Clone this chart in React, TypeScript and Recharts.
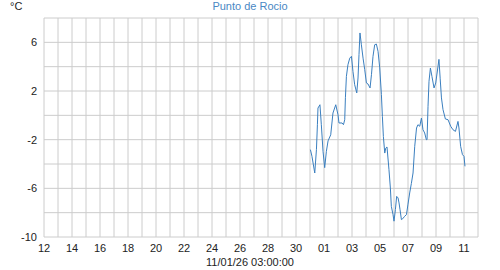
import React from 'react';
import { LineChart, Line, XAxis, YAxis, CartesianGrid } from 'recharts';

// days elapsed since 12 Dec (00:00)
const dayOffsets = [
  19.03, 19.14, 19.34, 19.46, 19.53, 19.57, 19.71, 19.81, 19.93, 20.05,
  20.17, 20.29, 20.48, 20.64, 20.84, 21.0, 21.07, 21.29, 21.39, 21.48,
  21.53, 21.6, 21.71, 21.84, 21.96, 22.07, 22.19, 22.34, 22.43, 22.5,
  22.57, 22.67, 22.79, 22.91, 23.03, 23.14, 23.29, 23.39, 23.5, 23.62,
  23.74, 23.86, 23.98, 24.1, 24.17, 24.24, 24.34, 24.41, 24.5, 24.64,
  24.74, 24.81, 24.93, 25.0, 25.1, 25.19, 25.29, 25.36, 25.43, 25.53,
  25.62, 25.76, 25.89, 26.0, 26.12, 26.24, 26.36, 26.48, 26.61, 26.71,
  26.84, 26.96, 27.07, 27.19, 27.31, 27.36, 27.43, 27.5, 27.6, 27.71,
  27.86, 27.98, 28.14, 28.21, 28.3, 28.39, 28.5, 28.67, 28.86, 29.05,
  29.21, 29.39, 29.57, 29.64, 29.76, 29.89, 30.0, 30.07,
];

// dew point, °C
const dewPoint = [
  -2.82, -3.37, -4.74, -2.8, -0.77, 0.6, 0.87, -0.77, -2.96, -4.3,
  -2.96, -2.1, -1.6, 0.19, 0.87, 0.05, -0.63, -0.63, -0.77, -0.36,
  1.45, 3.2, 4.16, 4.7, 4.85, 3.6, 2.52, 1.84, 3.07, 5.0,
  6.77, 5.8, 4.7, 3.75, 2.66, 2.58, 2.25, 3.34, 4.85, 5.8,
  5.86, 5.26, 3.9, 1.7, -0.08, -1.73, -3.1, -2.7, -2.6, -4.46,
  -5.97, -7.48, -8.16, -8.7, -7.75, -6.66, -6.79, -7.2, -7.75, -8.57,
  -8.5, -8.3, -8.16, -7.3, -6.38, -5.6, -4.74, -2.55, -1.04, -0.77,
  -0.9, -0.22, -1.18, -1.45, -2.0, -2.0, 0.74, 2.8, 3.89, 3.2,
  2.25, 2.66, 4.0, 4.6, 3.0, 1.43, 0.47, -0.3, -0.36, -0.9,
  -1.18, -1.32, -0.5, -1.04, -2.55, -3.23, -3.37, -4.19,
];

// day-of-month for each daily gridline, 12 Dec .. 12 Jan
const dayNumbers = [
  12, 13, 14, 15, 16, 17, 18, 19, 20, 21, 22, 23, 24, 25, 26, 27, 28, 29, 30, 31,
  1, 2, 3, 4, 5, 6, 7, 8, 9, 10, 11, 12,
];

const yTicks = [-10, -8, -6, -4, -2, 0, 2, 4, 6, 8];
const yTickLabels = [6, 2, -2, -6, -10];

const title = 'Punto de Rocio';
const unitLabel = '°C';
const dateLabel = '11/01/26 03:00:00';

const data = dayOffsets.map((t, i) => ({ t, v: dewPoint[i] }));
const xTicks = dayNumbers.map((_, i) => i);

const FONT = '"Liberation Sans Narrow", "Liberation Sans", Arial, sans-serif';

export default function App() {
  return (
    <div style={{ position: 'absolute', left: 0, top: 0, width: 500, height: 270, fontFamily: FONT }}>
      <LineChart width={500} height={270} data={data} margin={{ top: 18, right: 22, left: 0, bottom: 0 }}>
        <CartesianGrid stroke="#cccccc" strokeWidth={1} />
        <XAxis
          dataKey="t"
          type="number"
          domain={[0, 31]}
          ticks={xTicks}
          interval={0}
          height={33}
          axisLine={false}
          tickLine={false}
          tickSize={5}
          tickMargin={2}
          tick={{ fill: '#222', fontSize: 11, fontFamily: FONT }}
          tickFormatter={(i: number) => (i % 2 === 0 ? String(dayNumbers[i]).padStart(2, '0') : '')}
        />
        <YAxis
          type="number"
          domain={[-10, 8]}
          ticks={yTicks}
          interval={0}
          width={44}
          axisLine={false}
          tickLine={false}
          tickSize={5}
          tickMargin={2}
          tick={{ fill: '#222', fontSize: 11, fontFamily: FONT }}
          tickFormatter={(v: number) => (yTickLabels.includes(v) ? String(v) : '')}
        />
        <Line
          type="linear"
          dataKey="v"
          stroke="#3b7fbf"
          strokeWidth={1}
          dot={false}
          isAnimationActive={false}
        />
      </LineChart>
      <div style={{ position: 'absolute', left: 0, width: 500, top: 0, textAlign: 'center', fontSize: 11, lineHeight: '13px', color: '#4a88c4' }}>
        {title}
      </div>
      <div style={{ position: 'absolute', left: 10, top: 0, fontSize: 11, lineHeight: '13px', color: '#222' }}>
        {unitLabel}
      </div>
      <div style={{ position: 'absolute', left: 0, width: 500, top: 256, textAlign: 'center', fontSize: 11, lineHeight: '13px', color: '#222' }}>
        {dateLabel}
      </div>
    </div>
  );
}
